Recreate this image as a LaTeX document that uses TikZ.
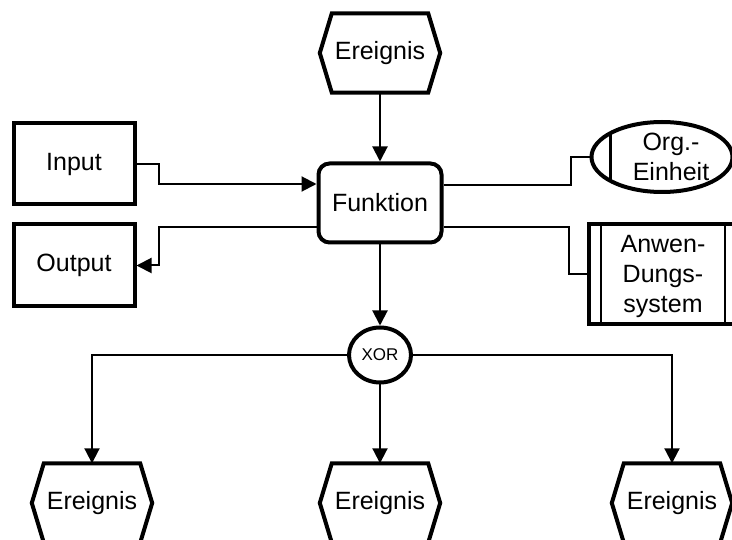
\documentclass[tikz,border=0pt]{standalone}
\usepackage{fontspec}
\setmainfont{Liberation Sans}
\usetikzlibrary{arrows.meta,shapes.geometric,calc}

\tikzset{
  txt/.style={font=\fontsize{25}{30}\selectfont, align=center, inner sep=0pt},
  frame/.style={draw, line width=4pt, line join=miter},
  plainbox/.style={frame, txt, minimum width=121pt, minimum height=81pt},
  funcbox/.style={frame, txt, rounded corners=11pt, minimum width=123pt, minimum height=79pt},
  evbox/.style={txt, minimum width=120pt, minimum height=79pt},
  orgbox/.style={frame, ellipse, inner sep=0pt, minimum width=141pt, minimum height=70pt},
  sysbox/.style={frame, inner sep=0pt, minimum width=148pt, minimum height=100pt},
  gate/.style={draw, line width=4pt, ellipse, inner sep=0pt, minimum width=62pt, minimum height=55pt,
    font=\fontsize{17}{20}\selectfont},
  link/.style={line width=2pt},
  flow/.style={link, -{Triangle[length=15pt,width=15pt]}},
}

% hexagonal event frame around an (invisible) event node
\newcommand\eventframe[1]{%
  \draw[frame] ([xshift=12pt]#1.north west) -- ([xshift=-12pt]#1.north east) -- (#1.east)
    -- ([xshift=-12pt]#1.south east) -- ([xshift=12pt]#1.south west) -- (#1.west) -- cycle;}

\begin{document}
\begin{tikzpicture}[x=1pt,y=-1pt]
\clip (0,0) rectangle (732,540);

% events
\node[evbox] (e0) at (380,53) {Ereignis};
\node[evbox] (e1) at (92,503) {Ereignis};
\node[evbox] (e2) at (380,503) {Ereignis};
\node[evbox] (e3) at (672,503) {Ereignis};
\eventframe{e0}
\eventframe{e1}
\eventframe{e2}
\eventframe{e3}

% function and its data
\node[funcbox] (fun) at (380,203) {Funktion};
\node[plainbox] (in) at (74,164) {Input};
\node[plainbox, minimum height=82pt] (out) at (74,265.5) {Output};

% organisational unit
\node[orgbox] (org) at (662,157) {};
\draw[line width=3pt] ($(org.center)+(-52,-25)$) -- ($(org.center)+(-52,25)$);
\node[txt] (orgtxt) at (671,157) {Org.-\\Einheit};

% application system
\node[sysbox] (anw) at (663,274.5) {};
\draw[line width=2.5pt] ([xshift=14pt]anw.north west) -- ([xshift=14pt]anw.south west);
\draw[line width=2.5pt] ([xshift=-14pt]anw.north east) -- ([xshift=-14pt]anw.south east);
\node[txt] (anwtxt) at (663,276) {Anwen-\\Dungs-\\system};

% XOR connector
\node[gate] (xor) at (380,355) {XOR};

% control flow
\draw[flow] (e0.south) -- (fun.north);
\draw[flow] (fun.south) -- (xor.north);
\draw[flow] (xor.west) -| (e1.north);
\draw[flow] (xor.south) -- (e2.north);
\draw[flow] (xor.east) -| (e3.north);

% data and resource links
\draw[flow] (in.east) -- ++(22,0) |- ([yshift=19pt]fun.west);
\draw[flow] ([yshift=-24pt]fun.west) -| ([xshift=22pt]out.east) -- (out.east);
\draw[link] ([yshift=18pt]fun.east) -- ++(127,0) |- (org.west);
\draw[link] ([yshift=-24pt]fun.east) -- ++(125,0) |- (anw.west);
\end{tikzpicture}
\end{document}
